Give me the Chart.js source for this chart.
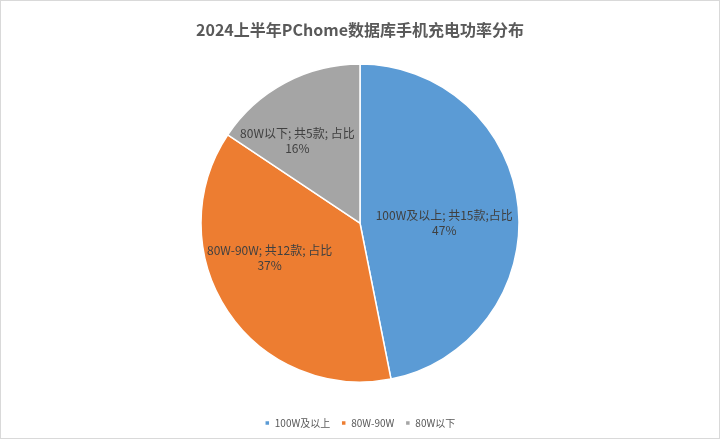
<!DOCTYPE html>
<html>
<head>
<meta charset="utf-8">
<script src="https://cdn.jsdelivr.net/npm/chart.js@4"></script>
<style>
  html, body { margin: 0; padding: 0; background: #fff; }
  #wrap { position: relative; width: 718px; height: 437px; border: 1px solid #d9d9d9; }
</style>
</head>
<body>
<div id="wrap"><canvas id="myChart"></canvas></div>
<script>
const categories = ['100W及以上', '80W-90W', '80W以下'];
const counts = [15, 12, 5];
const percentLabels = ['47%', '37%', '16%'];
const labelLines = [
    ['100W及以上; 共15款;占比', '47%'],
    ['80W-90W; 共12款; 占比', '37%'],
    ['80W以下; 共5款; 占比', '16%']
];
const colors = ['#5B9BD5', '#ED7D31', '#A5A5A5'];

// where each label sits: angle (deg, canvas) and fraction of radius
const labelPlace = [[0, 0.53], [158.75, 0.61], [232.7, 0.65]];

const sliceLabels = {
    id: 'sliceLabels',
    afterDatasetsDraw(chart) {
        const ctx = chart.ctx;
        const meta = chart.getDatasetMeta(0);
        ctx.save();
        ctx.font = '12px "Noto Sans CJK SC", sans-serif';
        ctx.fillStyle = '#404040';
        ctx.textAlign = 'center';
        ctx.textBaseline = 'middle';
        meta.data.forEach(function(arc, i) {
            const a = labelPlace[i][0] * Math.PI / 180;
            const r = arc.outerRadius * labelPlace[i][1];
            const x = arc.x + Math.cos(a) * r;
            const y = arc.y + Math.sin(a) * r;
            ctx.fillText(labelLines[i][0], x, y - 7.5);
            ctx.fillText(labelLines[i][1], x, y + 7.5);
        });
        ctx.restore();
    }
};

const ctx = document.getElementById('myChart');
new Chart(ctx, {
    type: 'pie',
    data: {
        labels: categories,
        datasets: [{
            data: counts,
            backgroundColor: colors,
            borderColor: '#ffffff',
            borderWidth: 1.5
        }]
    },
    options: {
        responsive: true,
        maintainAspectRatio: false,
        animation: false,
        radius: 159,
        layout: { padding: { top: 0, bottom: 0 } },
        plugins: {
            title: {
                display: true,
                text: '2024上半年PChome数据库手机充电功率分布',
                color: '#595959',
                font: { family: '"Noto Sans CJK SC", sans-serif', size: 16, weight: 'bold' },
                padding: { top: 19, bottom: 0 }
            },
            legend: {
                position: 'bottom',
                labels: {
                    color: '#595959',
                    font: { family: '"Noto Sans CJK SC", sans-serif', size: 10 },
                    boxWidth: 5,
                    boxHeight: 5,
                    padding: 11
                }
            },
            tooltip: { enabled: false }
        }
    },
    plugins: [sliceLabels]
});
</script>
</body>
</html>
